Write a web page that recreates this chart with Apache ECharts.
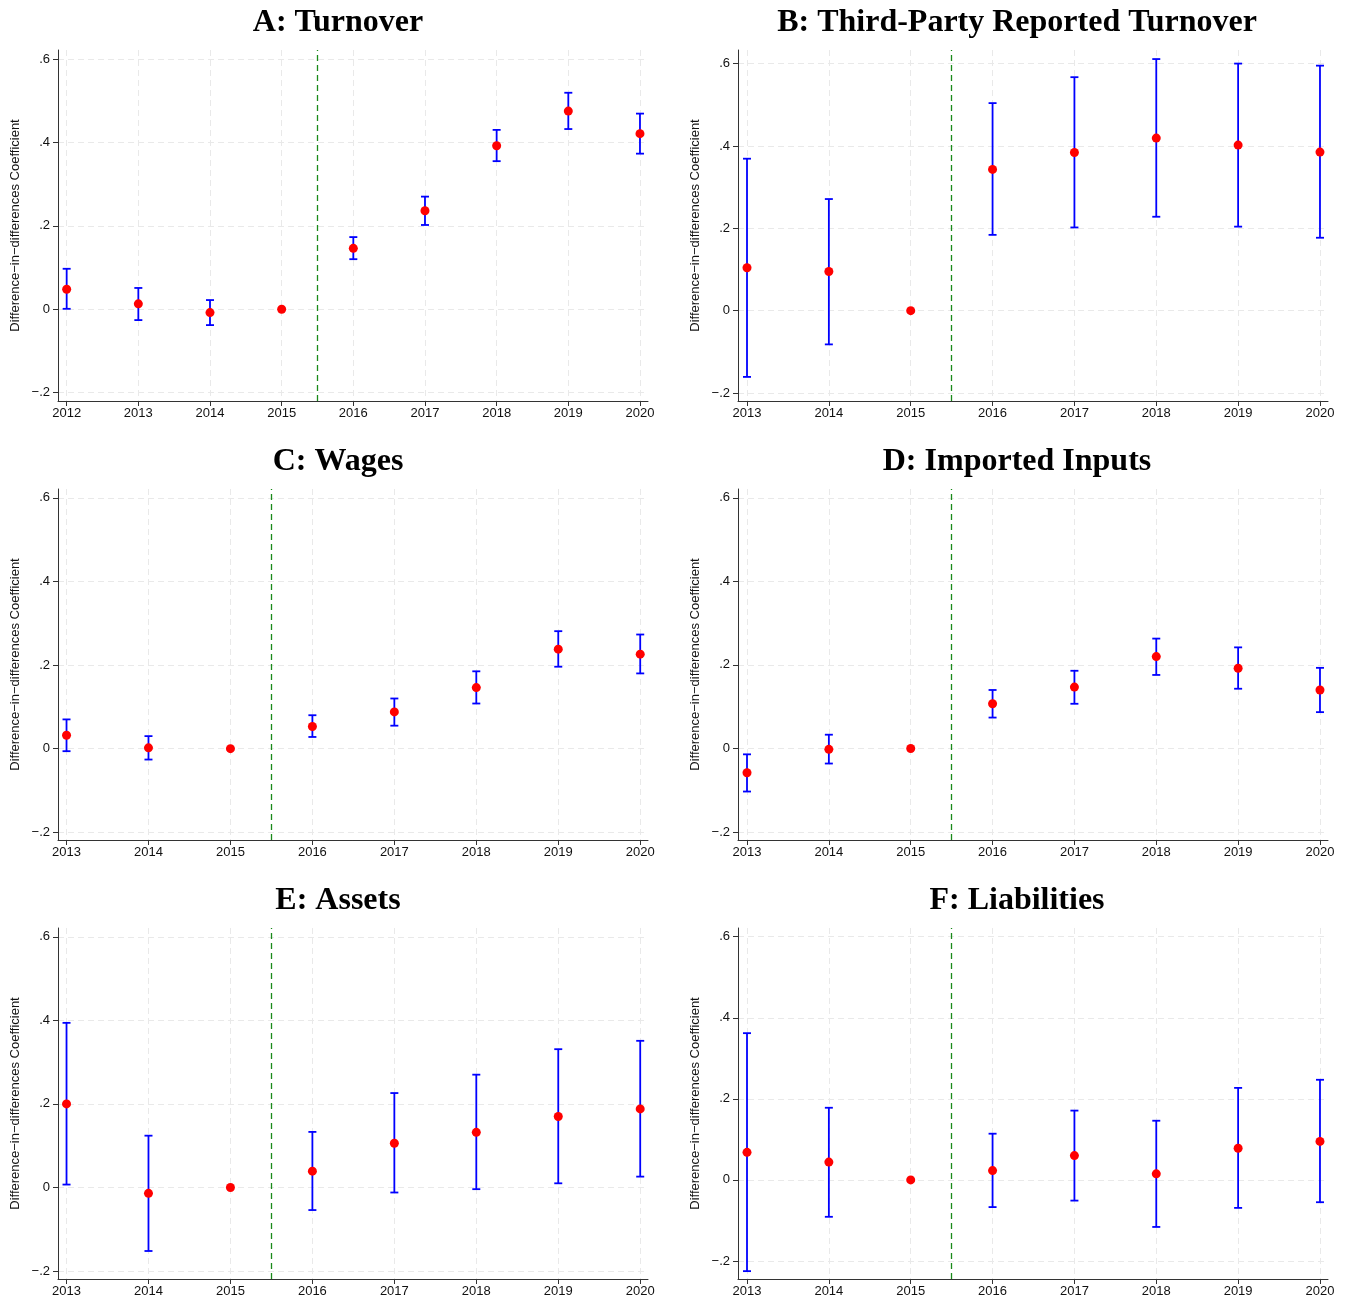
<!DOCTYPE html>
<html>
<head>
<meta charset="utf-8">
<script src="https://cdn.jsdelivr.net/npm/echarts@6/dist/echarts.min.js"></script>
<style>
html,body{margin:0;padding:0;background:#fff;}
#chart{width:1347px;height:1302px;}
</style>
</head>
<body>
<div id="chart"></div>
<script>
// ---------- data ----------
const titles = ['A: Turnover', 'B: Third-Party Reported Turnover', 'C: Wages', 'D: Imported Inputs', 'E: Assets', 'F: Liabilities'];
const yTicks = [-0.2, 0, 0.2, 0.4, 0.6];
const treatmentLine = 2015.5;

const yearsA = [2012, 2013, 2014, 2015, 2016, 2017, 2018, 2019, 2020];
const coefA = [0.048, 0.013, -0.008, 0, 0.146, 0.236, 0.392, 0.475, 0.421];
const loA   = [0.001, -0.026, -0.038, 0, 0.120, 0.202, 0.355, 0.432, 0.373];
const hiA   = [0.097, 0.051, 0.022, 0, 0.173, 0.270, 0.430, 0.519, 0.469];

const yearsB = [2013, 2014, 2015, 2016, 2017, 2018, 2019, 2020];
const coefB = [0.104, 0.095, 0, 0.343, 0.384, 0.419, 0.402, 0.385];
const loB   = [-0.161, -0.082, 0, 0.184, 0.202, 0.228, 0.204, 0.177];
const hiB   = [0.369, 0.271, 0, 0.504, 0.567, 0.611, 0.600, 0.595];

const yearsC = [2013, 2014, 2015, 2016, 2017, 2018, 2019, 2020];
const coefC = [0.032, 0.002, 0, 0.053, 0.088, 0.146, 0.238, 0.226];
const loC   = [-0.006, -0.026, 0, 0.028, 0.055, 0.108, 0.196, 0.180];
const hiC   = [0.070, 0.030, 0, 0.080, 0.120, 0.185, 0.281, 0.273];

const yearsD = [2013, 2014, 2015, 2016, 2017, 2018, 2019, 2020];
const coefD = [-0.058, -0.002, 0, 0.107, 0.147, 0.220, 0.192, 0.140];
const loD   = [-0.103, -0.036, 0, 0.074, 0.107, 0.176, 0.143, 0.087];
const hiD   = [-0.014, 0.033, 0, 0.140, 0.186, 0.263, 0.242, 0.193];

const yearsE = [2013, 2014, 2015, 2016, 2017, 2018, 2019, 2020];
const coefE = [0.200, -0.014, 0, 0.039, 0.106, 0.132, 0.170, 0.188];
const loE   = [0.007, -0.152, 0, -0.054, -0.012, -0.004, 0.010, 0.026];
const hiE   = [0.394, 0.124, 0, 0.133, 0.226, 0.270, 0.331, 0.351];

const yearsF = [2013, 2014, 2015, 2016, 2017, 2018, 2019, 2020];
const coefF = [0.068, 0.044, 0, 0.023, 0.060, 0.015, 0.078, 0.095];
const loF   = [-0.225, -0.091, 0, -0.067, -0.051, -0.116, -0.069, -0.055];
const hiF   = [0.362, 0.178, 0, 0.114, 0.171, 0.146, 0.227, 0.247];

// ---------- layout ----------
const panels = [
  {years: yearsA, coef: coefA, lo: loA, hi: hiA, left: 58,  top: 50,  xmin: 2011.879, xmax: 2020.112, ymin: -0.220, ymax: 0.6215, cx: 333},
  {years: yearsB, coef: coefB, lo: loB, hi: hiB, left: 738, top: 50,  xmin: 2012.890, xmax: 2020.098, ymin: -0.2195, ymax: 0.633, cx: 1012},
  {years: yearsC, coef: coefC, lo: loC, hi: hiC, left: 58,  top: 489, xmin: 2012.896, xmax: 2020.095, ymin: -0.2184, ymax: 0.621, cx: 333},
  {years: yearsD, coef: coefD, lo: loD, hi: hiD, left: 738, top: 489, xmin: 2012.890, xmax: 2020.098, ymin: -0.219, ymax: 0.621, cx: 1012},
  {years: yearsE, coef: coefE, lo: loE, hi: hiE, left: 58,  top: 928, xmin: 2012.896, xmax: 2020.095, ymin: -0.219, ymax: 0.621, cx: 333},
  {years: yearsF, coef: coefF, lo: loF, hi: hiF, left: 738, top: 928, xmin: 2012.890, xmax: 2020.098, ymin: -0.2444, ymax: 0.6214, cx: 1012}
];
const gridW = 590, gridH = 351;

function fmtY(v) {
  if (Math.abs(v) < 1e-9) return '0';
  const s = String(Math.round(Math.abs(v) * 10) / 10).replace(/^0/, '');
  return (v < 0 ? '\u2212' : '') + s;
}

function renderErr(params, api) {
  const x = api.value(0), lo = api.value(1), hi = api.value(2);
  if (lo === hi) return null;
  const pTop = api.coord([x, hi]);
  const pBot = api.coord([x, lo]);
  const w = 4;
  const style = {stroke: '#0000ff', lineWidth: 1.8, fill: null};
  return {
    type: 'group',
    children: [
      {type: 'line', shape: {x1: pTop[0], y1: pTop[1], x2: pBot[0], y2: pBot[1]}, style: style},
      {type: 'line', shape: {x1: pTop[0] - w, y1: pTop[1], x2: pTop[0] + w, y2: pTop[1]}, style: style},
      {type: 'line', shape: {x1: pBot[0] - w, y1: pBot[1], x2: pBot[0] + w, y2: pBot[1]}, style: style}
    ]
  };
}

const option = {
  animation: false,
  backgroundColor: '#ffffff',
  title: [], grid: [], xAxis: [], yAxis: [], series: []
};

const gridLine = {show: true, lineStyle: {color: '#e9e9e9', width: 1, type: [6, 4]}};
const axisCol = '#333333';

panels.forEach(function (p, i) {
  option.title.push({
    text: titles[i],
    left: p.cx, textAlign: 'center',
    top: p.top - 48,
    textStyle: {fontFamily: 'Liberation Serif', fontWeight: 'bold', fontSize: 32, color: '#000'}
  });
  option.grid.push({left: p.left, top: p.top, width: gridW, height: gridH, containLabel: false});
  option.xAxis.push({
    type: 'value', gridIndex: i, min: p.xmin, max: p.xmax,
    axisLine: {show: true, onZero: false, lineStyle: {color: axisCol, width: 1}},
    axisTick: {show: true, customValues: p.years, length: 5, lineStyle: {color: axisCol}},
    axisLabel: {show: true, customValues: p.years, formatter: function (v) { return String(Math.round(v)); },
      color: '#111', fontSize: 13, fontFamily: 'Liberation Sans', margin: 6},
    splitLine: gridLine
  });
  option.yAxis.push({
    type: 'value', gridIndex: i, min: p.ymin, max: p.ymax,
    name: 'Difference\u2212in\u2212differences Coefficient',
    nameLocation: 'middle', nameGap: 36, nameRotate: 90,
    nameTextStyle: {fontFamily: 'Liberation Sans', fontSize: 13, color: '#111'},
    axisLine: {show: true, onZero: false, lineStyle: {color: axisCol, width: 1}},
    axisTick: {show: true, customValues: yTicks, length: 5, lineStyle: {color: axisCol}},
    axisLabel: {show: true, customValues: yTicks, formatter: fmtY,
      color: '#111', fontSize: 13, fontFamily: 'Liberation Sans', margin: 8},
    splitLine: gridLine
  });
  option.series.push({
    type: 'custom', xAxisIndex: i, yAxisIndex: i,
    renderItem: renderErr,
    encode: {x: 0, y: [1, 2]},
    data: p.years.map(function (y, k) { return [y, p.lo[k], p.hi[k]]; }),
    z: 3, silent: true
  });
  option.series.push({
    type: 'scatter', xAxisIndex: i, yAxisIndex: i,
    symbol: 'circle', symbolSize: 9,
    itemStyle: {color: '#ff0000', opacity: 1},
    data: p.years.map(function (y, k) { return [y, p.coef[k]]; }),
    z: 4, silent: true,
    markLine: {
      silent: true, symbol: 'none', animation: false,
      label: {show: false},
      emphasis: {disabled: true},
      lineStyle: {color: '#1a8a1a', width: 1.3, type: [6, 4], opacity: 1},
      data: [{xAxis: treatmentLine, lineStyle: {color: '#1a8a1a'}}]
    }
  });
});

const chart = echarts.init(document.getElementById('chart'), null, {renderer: 'canvas'});
chart.setOption(option);
</script>
</body>
</html>
